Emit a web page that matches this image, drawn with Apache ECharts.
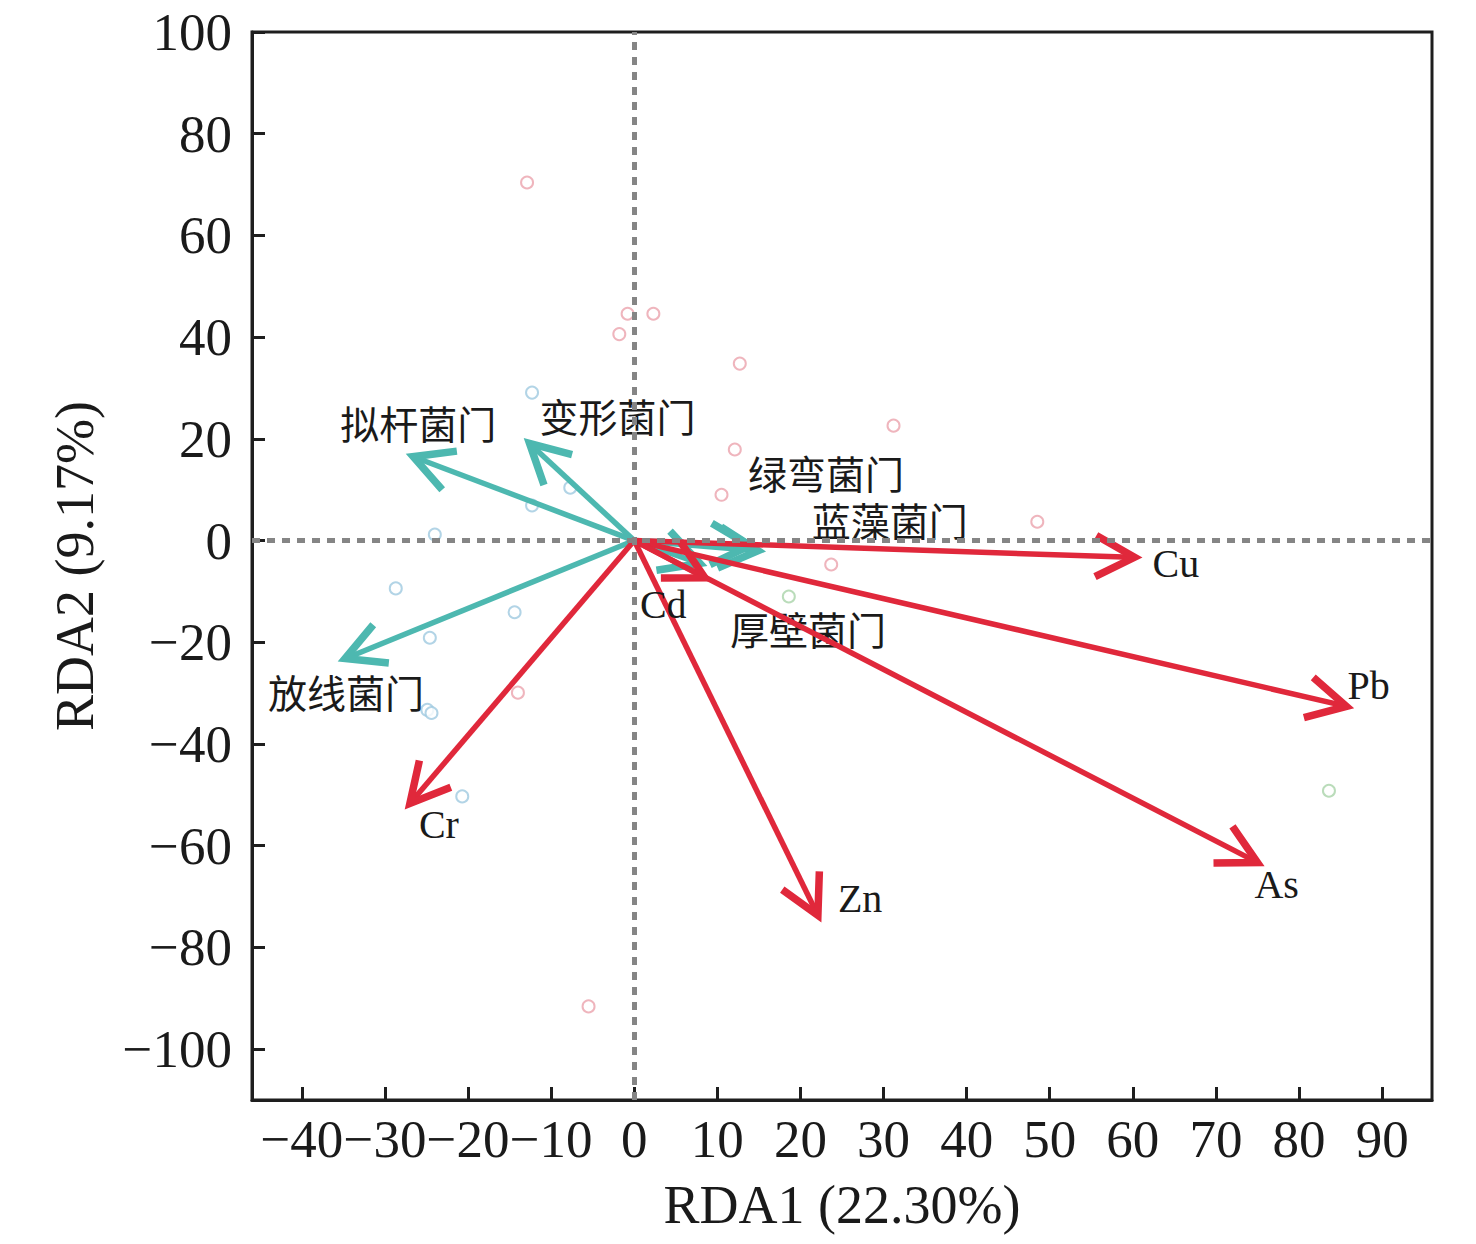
<!DOCTYPE html>
<html>
<head>
<meta charset="utf-8">
<script src="https://cdn.jsdelivr.net/npm/echarts@6/dist/echarts.min.js"></script>
<style>
html,body{margin:0;padding:0;background:#fff;}
#chart{width:1476px;height:1244px;}
</style>
</head>
<body>
<div id="chart"></div>
<script>
// ---------------- data ----------------
const xTicks = [-40, -30, -20, -10, 0, 10, 20, 30, 40, 50, 60, 70, 80, 90];
const yTicks = [-100, -80, -60, -40, -20, 0, 20, 40, 60, 80, 100];
const xAxisTitle = 'RDA1 (22.30%)';
const yAxisTitle = 'RDA2 (9.17%)';

// environmental factors (red arrows)
const envNames = ['Cu', 'Pb', 'As', 'Zn', 'Cr', 'Cd'];
const envX = [60.2, 85.7, 75.0, 22.1, -27.0, 8.5];
const envY = [-3.3, -32.6, -63.3, -73.7, -51.7, -7.3];

// phyla (teal arrows)
const phylumNames = ['拟杆菌门', '变形菌门', '绿弯菌门', '蓝藻菌门', '厚壁菌门', '放线菌门'];
const phylumX = [-26.6, -12.6, 14.9, 13.9, 7.9, -34.8];
const phylumY = [16.5, 19.1, -2.0, -1.0, -4.5, -23.2];

// samples (open circles), three groups
const groupAX = [-12.9, -0.8, 2.3, -1.8, 12.7, 31.2, 12.1, 10.5, 48.5, 23.7, -14.0, -5.5];
const groupAY = [70.4, 44.6, 44.6, 40.6, 34.8, 22.6, 17.9, 9.0, 3.7, -4.7, -29.9, -91.6];
const groupBX = [-12.3, -7.7, -12.3, -24.0, -28.7, -14.4, -24.6, -24.9, -24.4, -20.7];
const groupBY = [29.1, 10.4, 6.9, 1.2, -9.4, -14.1, -19.1, -33.3, -33.9, -50.3];
const groupCX = [18.6, 83.6];
const groupCY = [-11.0, -49.2];

// ---------------- styles ----------------
const RED = '#e0283b';
const TEAL = '#4db8b0';
const AXIS = '#1e1e1e';
const SERIF = '"Liberation Serif", "Times New Roman", serif';
const CJK = '"Noto Sans CJK SC", sans-serif';

// label offsets (pixels from arrow tip)
const labelOffsets = {
  'Cu': [18, 6], 'Pb': [1, -21], 'As': [-3, 22], 'Zn': [20, -17], 'Cr': [9, 21], 'Cd': [-65, 27],
  '拟杆菌门': [-73, -35], '变形菌门': [10, -28], '绿弯菌门': [-10, -79],
  '蓝藻菌门': [62, -27], '厚壁菌门': [30, 65], '放线菌门': [-77, 32]
};

function pairs(xs, ys) { return xs.map((x, i) => [x, ys[i]]); }
function minusFmt(v) { return String(v).replace('-', '\u2212'); }

function arrowRender(color, names) {
  return function (params, api) {
    const x = api.value(0), y = api.value(1);
    const p0 = api.coord([0, 0]);
    const p1 = api.coord([x, y]);
    const ang = Math.atan2(p1[1] - p0[1], p1[0] - p0[0]);
    const hl = 44, ha = 28 * Math.PI / 180;
    const b1 = [p1[0] - hl * Math.cos(ang - ha), p1[1] - hl * Math.sin(ang - ha)];
    const b2 = [p1[0] - hl * Math.cos(ang + ha), p1[1] - hl * Math.sin(ang + ha)];
    const name = names[params.dataIndex];
    const off = labelOffsets[name] || [8, 0];
    const isCjk = /[\u4e00-\u9fff]/.test(name);
    return {
      type: 'group',
      children: [
        { type: 'line', shape: { x1: p0[0], y1: p0[1], x2: p1[0] - 3 * Math.cos(ang), y2: p1[1] - 3 * Math.sin(ang) },
          style: { stroke: color, lineWidth: 5.5, lineCap: 'butt' } },
        { type: 'polyline', shape: { points: [b1, p1, b2] },
          style: { stroke: color, lineWidth: 7.5, lineJoin: 'miter', fill: null } },
        { type: 'text', style: {
            text: name, x: p1[0] + off[0], y: p1[1] + off[1],
            fill: '#1a1a1a', align: 'left', verticalAlign: 'middle',
            font: isCjk ? ('39px ' + CJK) : ('40px ' + SERIF)
          } }
      ]
    };
  };
}

const chart = echarts.init(document.getElementById('chart'), null, { renderer: 'svg' });

const option = {
  backgroundColor: '#fff',
  animation: false,
  grid: { left: 252, right: 44, top: 32, bottom: 144, show: true, borderColor: AXIS, borderWidth: 3, backgroundColor: 'transparent' },
  xAxis: {
    type: 'value', min: -46, max: 96,
    name: xAxisTitle, nameLocation: 'middle', nameGap: 78,
    nameTextStyle: { fontFamily: SERIF, fontSize: 54, color: '#1a1a1a' },
    axisLine: { show: true, onZero: false, lineStyle: { color: AXIS, width: 3 } },
    axisTick: { show: true, inside: true, length: 13, lineStyle: { color: AXIS, width: 3 }, customValues: xTicks },
    axisLabel: { margin: 12, fontFamily: SERIF, fontSize: 53, color: '#1a1a1a', customValues: xTicks, formatter: minusFmt },
    splitLine: { show: false }
  },
  yAxis: {
    type: 'value', min: -110, max: 100,
    name: yAxisTitle, nameLocation: 'middle', nameGap: 150,
    nameTextStyle: { fontFamily: SERIF, fontSize: 54, color: '#1a1a1a' },
    axisLine: { show: true, onZero: false, lineStyle: { color: AXIS, width: 3 } },
    axisTick: { show: true, inside: true, length: 13, lineStyle: { color: AXIS, width: 3 }, customValues: yTicks },
    axisLabel: { margin: 20, fontFamily: SERIF, fontSize: 53, color: '#1a1a1a', customValues: yTicks, formatter: minusFmt,
                 padding: [0, 0, 10, 0] },
    splitLine: { show: false }
  },
  series: [
    {
      type: 'line', data: [], silent: true,
      markLine: {
        silent: true, symbol: 'none', animation: false,
        label: { show: false },
        lineStyle: { color: '#858585', type: [8, 7], width: 5 },
        data: [{ xAxis: 0 }, { yAxis: 0 }]
      }
    },
    { type: 'scatter', symbol: 'emptyCircle', symbolSize: 12, data: pairs(groupAX, groupAY),
      itemStyle: { color: '#eba3ad', borderWidth: 1.6 }, z: 2 },
    { type: 'scatter', symbol: 'emptyCircle', symbolSize: 12, data: pairs(groupBX, groupBY),
      itemStyle: { color: '#9fc9e0', borderWidth: 1.6 }, z: 2 },
    { type: 'scatter', symbol: 'emptyCircle', symbolSize: 12, data: pairs(groupCX, groupCY),
      itemStyle: { color: '#a9d3a9', borderWidth: 1.6 }, z: 2 },
    { type: 'custom', renderItem: arrowRender(TEAL, phylumNames), data: pairs(phylumX, phylumY), z: 3, clip: false },
    { type: 'custom', renderItem: arrowRender(RED, envNames), data: pairs(envX, envY), z: 4, clip: false }
  ]
};
chart.setOption(option);
</script>
</body>
</html>
